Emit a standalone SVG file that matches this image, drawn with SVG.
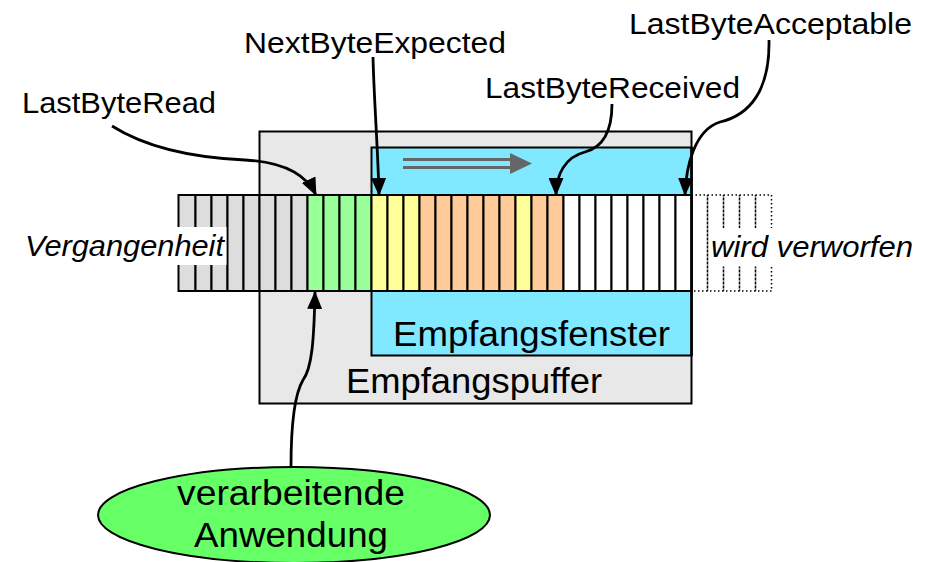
<svg xmlns="http://www.w3.org/2000/svg" width="932" height="562" viewBox="0 0 932 562">
  <defs>
    <marker id="arrow" markerUnits="userSpaceOnUse" markerWidth="18" markerHeight="15" refX="17" refY="7.5" orient="auto">
      <path d="M0,0 L18,7.5 L0,15 z" fill="#000"/>
    </marker>
    <style>
      .lbl { font-family: "Liberation Sans", Arial, sans-serif; font-size: 29px; fill: #000; }
      .big { font-family: "Liberation Sans", Arial, sans-serif; font-size: 35px; fill: #000; }
      .ital { font-family: "Liberation Sans", Arial, sans-serif; font-size: 30px; font-style: italic; fill: #000; }
      .cell { stroke: #000; stroke-width: 2; }
      .gray { fill: #dddddd; }
      .green { fill: #99ff99; }
      .yellow { fill: #ffff99; }
      .orange { fill: #ffcc99; }
      .white { fill: #ffffff; }
      .dotted { fill: none; stroke: #000; stroke-width: 1.5; stroke-dasharray: 1.5 2.5; }
      .conn { fill: none; stroke: #000; stroke-width: 2.8; marker-end: url(#arrow); }
    </style>
  </defs>
  <rect width="932" height="562" fill="#fff"/>

  <!-- receive buffer -->
  <g id="empfangspuffer">
    <rect x="259.5" y="131.5" width="432" height="272" fill="#e8e8e8" stroke="#000" stroke-width="2"/>
    <text class="big" x="346" y="393" textLength="256" lengthAdjust="spacingAndGlyphs">Empfangspuffer</text>
  </g>

  <!-- receive window -->
  <g id="empfangsfenster">
    <rect x="371.5" y="147.5" width="320" height="208" fill="#80e8ff" stroke="#000" stroke-width="2"/>
    <text class="big" x="393" y="346" textLength="277" lengthAdjust="spacingAndGlyphs">Empfangsfenster</text>
    <!-- direction of movement -->
    <g fill="#666666">
      <rect x="403" y="158" width="110" height="3"/>
      <rect x="403" y="166" width="110" height="3"/>
      <path d="M510,153 L532,163.5 L510,174 z"/>
    </g>
  </g>

  <!-- byte stream -->
  <g id="bytes">
    <rect class="cell gray" x="178.5" y="195" width="17" height="96"/>
    <rect class="cell gray" x="195.5" y="195" width="16" height="96"/>
    <rect class="cell gray" x="211.5" y="195" width="16" height="96"/>
    <rect class="cell gray" x="227.5" y="195" width="16" height="96"/>
    <rect class="cell gray" x="243.5" y="195" width="16" height="96"/>
    <rect class="cell gray" x="259.5" y="195" width="16" height="96"/>
    <rect class="cell gray" x="275.5" y="195" width="16" height="96"/>
    <rect class="cell gray" x="291.5" y="195" width="16" height="96"/>
    <rect class="cell green" x="307.5" y="195" width="16" height="96"/>
    <rect class="cell green" x="323.5" y="195" width="16" height="96"/>
    <rect class="cell green" x="339.5" y="195" width="16" height="96"/>
    <rect class="cell green" x="355.5" y="195" width="16" height="96"/>
    <rect class="cell yellow" x="371.5" y="195" width="16" height="96"/>
    <rect class="cell yellow" x="387.5" y="195" width="16" height="96"/>
    <rect class="cell yellow" x="403.5" y="195" width="16" height="96"/>
    <rect class="cell orange" x="419.5" y="195" width="16" height="96"/>
    <rect class="cell orange" x="435.5" y="195" width="16" height="96"/>
    <rect class="cell orange" x="451.5" y="195" width="16" height="96"/>
    <rect class="cell orange" x="467.5" y="195" width="16" height="96"/>
    <rect class="cell orange" x="483.5" y="195" width="16" height="96"/>
    <rect class="cell orange" x="499.5" y="195" width="16" height="96"/>
    <rect class="cell yellow" x="515.5" y="195" width="16" height="96"/>
    <rect class="cell orange" x="531.5" y="195" width="16" height="96"/>
    <rect class="cell orange" x="547.5" y="195" width="16" height="96"/>
    <rect class="cell white" x="563.5" y="195" width="16" height="96"/>
    <rect class="cell white" x="579.5" y="195" width="16" height="96"/>
    <rect class="cell white" x="595.5" y="195" width="16" height="96"/>
    <rect class="cell white" x="611.5" y="195" width="16" height="96"/>
    <rect class="cell white" x="627.5" y="195" width="16" height="96"/>
    <rect class="cell white" x="643.5" y="195" width="16" height="96"/>
    <rect class="cell white" x="659.5" y="195" width="16" height="96"/>
    <rect class="cell white" x="675.5" y="195" width="16" height="96"/>
    <!-- discarded bytes beyond the window -->
    <rect class="dotted" x="691.5" y="195" width="16" height="96"/>
    <rect class="dotted" x="707.5" y="195" width="16" height="96"/>
    <rect class="dotted" x="723.5" y="195" width="16" height="96"/>
    <rect class="dotted" x="739.5" y="195" width="16" height="96"/>
    <rect class="dotted" x="755.5" y="195" width="16" height="96"/>
    <line x1="691.5" y1="147" x2="691.5" y2="356" stroke="#000" stroke-width="2.5"/>
  </g>

  <g id="vergangenheit">
    <rect x="20" y="227" width="206.5" height="38" fill="#fff"/>
    <text class="ital" x="25" y="256" textLength="199" lengthAdjust="spacingAndGlyphs">Vergangenheit</text>
  </g>

  <g id="verworfen">
    <rect x="709" y="228" width="210" height="38.5" fill="#fff"/>
    <text class="ital" x="711" y="257" textLength="202" lengthAdjust="spacingAndGlyphs">wird verworfen</text>
  </g>

  <g id="anwendung">
    <ellipse cx="294" cy="515" rx="196" ry="48" fill="#66ff66" stroke="#000" stroke-width="2"/>
    <text class="big" x="177" y="505" textLength="228" lengthAdjust="spacingAndGlyphs">verarbeitende</text>
    <text class="big" x="194" y="547" textLength="194" lengthAdjust="spacingAndGlyphs">Anwendung</text>
  </g>

  <g id="lastbyteread">
    <text class="lbl" x="22" y="113" textLength="194" lengthAdjust="spacingAndGlyphs">LastByteRead</text>
  </g>
  <g id="nextbyteexpected">
    <text class="lbl" x="244" y="53" textLength="262" lengthAdjust="spacingAndGlyphs">NextByteExpected</text>
  </g>
  <g id="lastbytereceived">
    <text class="lbl" x="485" y="98" textLength="255" lengthAdjust="spacingAndGlyphs">LastByteReceived</text>
  </g>
  <g id="lastbyteacceptable">
    <text class="lbl" x="629" y="34" textLength="283" lengthAdjust="spacingAndGlyphs">LastByteAcceptable</text>
  </g>

  <!-- pointers into the byte stream -->
  <g id="connectors">
    <path class="conn" d="M112,126 C150,150 200,158 245,160 C282,162 306,174 316,195"/>
    <path class="conn" d="M373,57 C374,100 378,150 379,195"/>
    <path class="conn" d="M612,104 C612,135 600,148 585,152 C565,157 556,175 556,195"/>
    <path class="conn" d="M769,40 C770,90 750,115 720,122 C695,130 686,165 685,195"/>
    <path class="conn" d="M291,467 C291,430 294,395 303,380 C312,368 314,340 315,292"/>
  </g>
</svg>
